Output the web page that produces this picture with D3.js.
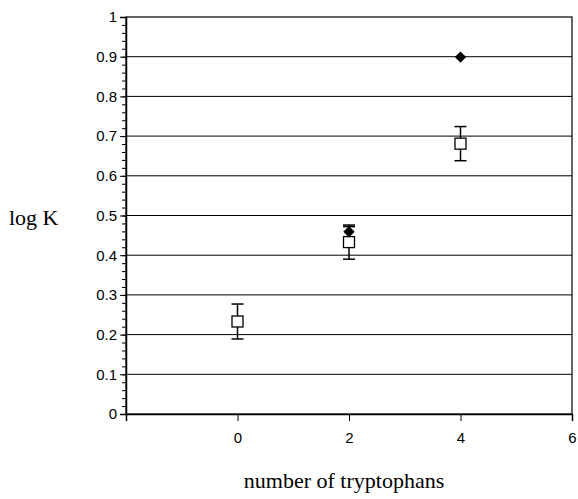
<!DOCTYPE html>
<html>
<head>
<meta charset="utf-8">
<script src="https://cdn.jsdelivr.net/npm/d3@7"></script>
<style>
  body { margin: 0; background: #fff; }
</style>
</head>
<body>
<div id="chart"></div>
<script>
// open squares: value with error bar
const squareX = [0, 2, 4];
const squareY = [0.233, 0.433, 0.681];
const squareErr = [0.044, 0.043, 0.043];
// filled diamonds
const diamondX = [2, 4];
const diamondY = [0.459, 0.899];
const diamondErr = [0.013, 0];

const xTicks = [-2, 0, 2, 4, 6];
const xTickLabels = ["", "0", "2", "4", "6"];
const yTicks = [0, 0.1, 0.2, 0.3, 0.4, 0.5, 0.6, 0.7, 0.8, 0.9, 1];

const width = 578, height = 499;
const margin = {top: 17, right: 6, bottom: 85, left: 126};
const sans = "'Liberation Sans', Arial, sans-serif";
const serif = "'Liberation Serif', 'Times New Roman', serif";

const svg = d3.select("#chart").append("svg")
  .attr("width", width)
  .attr("height", height);

const x = d3.scaleLinear().domain([-2, 6]).range([margin.left, width - margin.right]);
const y = d3.scaleLinear().domain([0, 1]).range([height - margin.bottom, margin.top]);

// horizontal grid lines
svg.append("g")
  .selectAll("line")
  .data(yTicks.filter(d => d > 0 && d < 1))
  .enter().append("line")
  .attr("x1", x(-2)).attr("x2", x(6))
  .attr("y1", d => y(d)).attr("y2", d => y(d))
  .attr("stroke", "#000").attr("stroke-width", 1);

// box
svg.append("rect")
  .attr("x", x(-2)).attr("y", y(1))
  .attr("width", x(6) - x(-2)).attr("height", y(0) - y(1))
  .attr("fill", "none").attr("stroke", "#000").attr("stroke-width", 1.2);

// y axis with minor ticks
const yAxis = svg.append("g")
  .attr("transform", `translate(${x(-2)},0)`)
  .call(d3.axisLeft(y).tickValues(yTicks).tickSize(6).tickPadding(3).tickFormat(d3.format("")));
yAxis.select(".domain").attr("stroke-width", 1.5);
yAxis.selectAll("text").attr("font-family", sans).attr("font-size", 15).attr("fill", "#000");
svg.append("g")
  .attr("transform", `translate(${x(-2)},0)`)
  .call(d3.axisLeft(y).tickValues(d3.range(0, 101, 2).map(d => d / 100)).tickSize(4).tickFormat(""))
  .call(g => g.select(".domain").remove());

// x axis
const xAxis = svg.append("g")
  .attr("transform", `translate(0,${y(0)})`)
  .call(d3.axisBottom(x).tickValues(xTicks).tickSize(7).tickPadding(11)
    .tickFormat((d, i) => xTickLabels[i]));
xAxis.select(".domain").attr("stroke-width", 1.5);
xAxis.selectAll("text").attr("font-family", sans).attr("font-size", 15).attr("fill", "#000");

// error bars
function errorBars(xs, ys, es) {
  const g = svg.append("g").attr("stroke", "#000").attr("stroke-width", 1.5);
  xs.forEach((xv, i) => {
    if (!es[i]) return;
    const cx = x(xv), y1 = y(ys[i] - es[i]), y2 = y(ys[i] + es[i]);
    g.append("line").attr("x1", cx).attr("x2", cx).attr("y1", y1).attr("y2", y2);
    g.append("line").attr("x1", cx - 6).attr("x2", cx + 6).attr("y1", y1).attr("y2", y1);
    g.append("line").attr("x1", cx - 6).attr("x2", cx + 6).attr("y1", y2).attr("y2", y2);
  });
}
errorBars(squareX, squareY, squareErr);
errorBars(diamondX, diamondY, diamondErr);

// open squares
svg.append("g")
  .selectAll("rect")
  .data(squareX)
  .enter().append("rect")
  .attr("x", d => x(d) - 5.5)
  .attr("y", (d, i) => y(squareY[i]) - 5.5)
  .attr("width", 11).attr("height", 11)
  .attr("fill", "#fff").attr("stroke", "#000").attr("stroke-width", 1.3);

// filled diamonds
svg.append("g")
  .selectAll("path")
  .data(diamondX)
  .enter().append("path")
  .attr("transform", (d, i) => `translate(${x(d)},${y(diamondY[i])}) rotate(45)`)
  .attr("d", "M-4,-4H4V4H-4Z")
  .attr("fill", "#000");

// labels
svg.append("text")
  .attr("font-family", serif).attr("font-size", 22)
  .attr("x", 9).attr("y", 225)
  .text("log K");
svg.append("text")
  .attr("font-family", serif).attr("font-size", 22)
  .attr("x", 344).attr("y", 488)
  .attr("text-anchor", "middle")
  .text("number of tryptophans");
</script>
</body>
</html>
